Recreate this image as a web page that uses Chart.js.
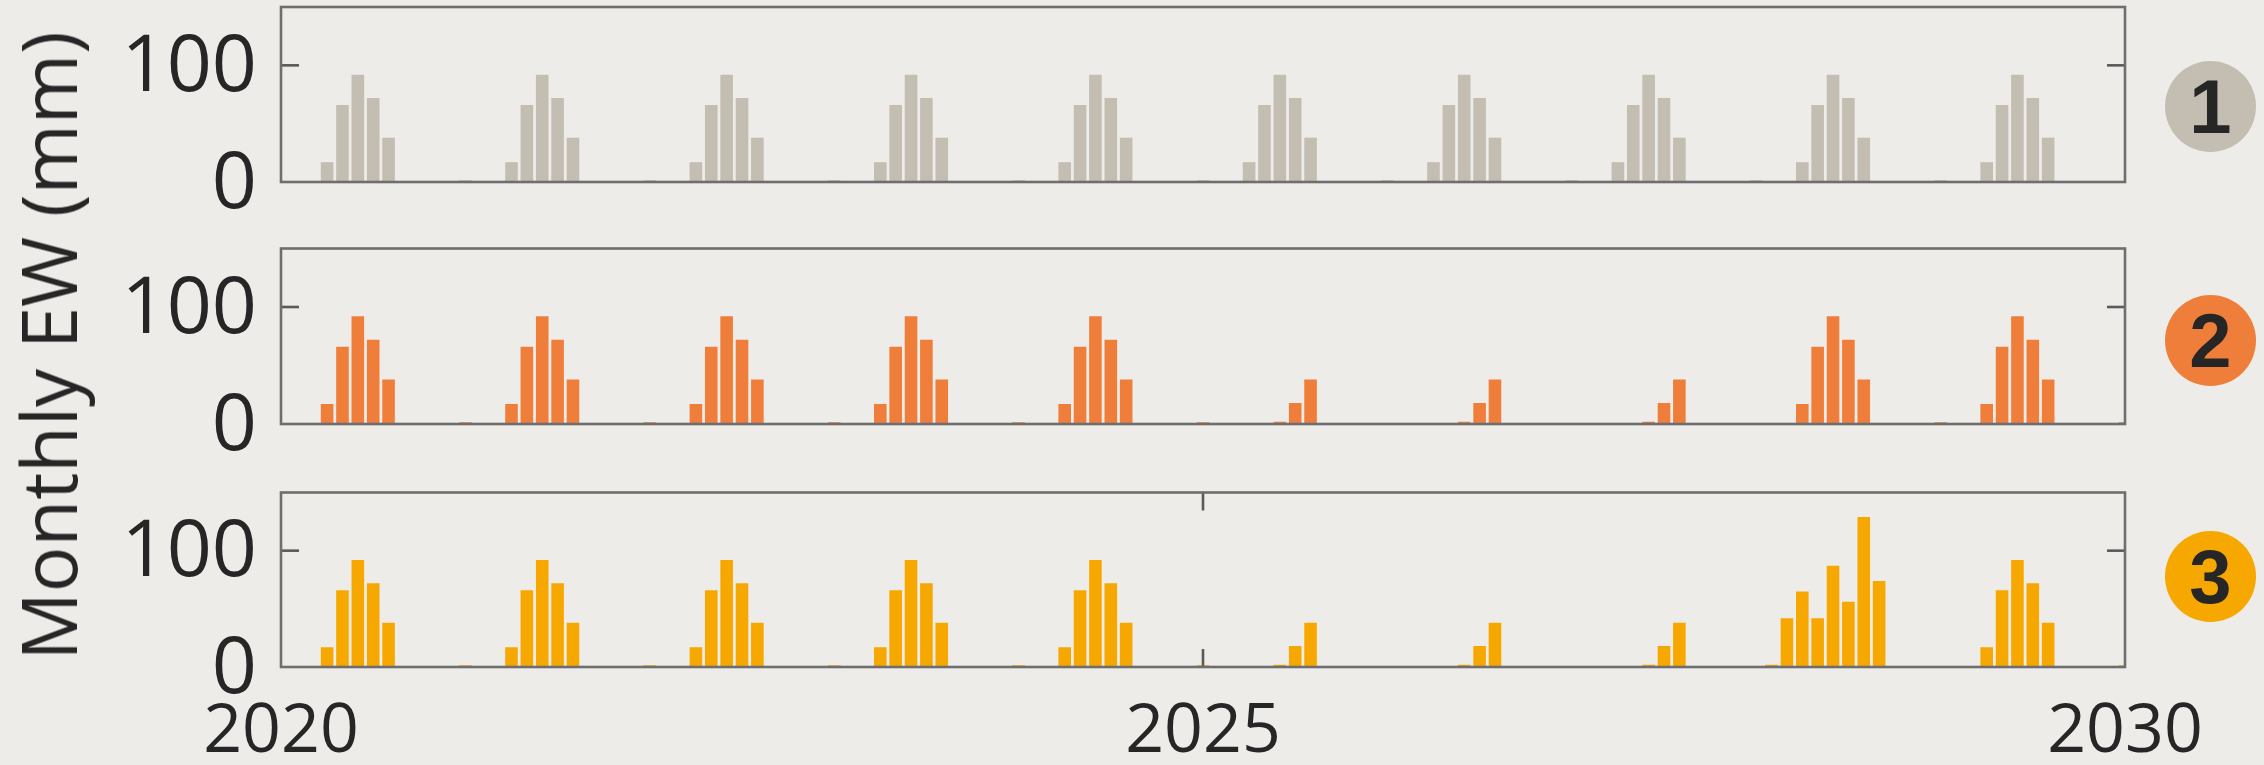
<!DOCTYPE html>
<html>
<head>
<meta charset="utf-8">
<title>Monthly EW</title>
<script src="https://cdn.jsdelivr.net/npm/chart.js@4.4.1/dist/chart.umd.min.js"></script>
<style>
  html, body { margin: 0; padding: 0; background: #eeece8; }
  body { width: 2264px; height: 765px; position: relative; overflow: hidden; font-family: "Open Sans", sans-serif; }
  canvas { position: absolute; left: 0; }
  #ytitle {
    position: absolute; left: 10px; top: 346px;
    font: 400 76px/76px "Open Sans", sans-serif; color: #262626; white-space: nowrap;
    transform-origin: 0 0; transform: rotate(-90deg) translateX(-50%);
  }
  .badge {
    position: absolute; left: 2165px; width: 91px; height: 91px; border-radius: 50%;
    display: flex; align-items: center; justify-content: center;
    font: 700 76px/76px "Liberation Sans", Arial, sans-serif; color: #262626;
  }
</style>
</head>
<body>
<canvas id="c1" width="2264" height="230" style="top:0px"></canvas>
<canvas id="c2" width="2264" height="240" style="top:230px"></canvas>
<canvas id="c3" width="2264" height="287" style="top:470px"></canvas>
<div id="ytitle">Monthly EW (mm)</div>
<div class="badge" style="top:61px;background:#c4beb2">1</div>
<div class="badge" style="top:295px;background:#ef7e3b">2</div>
<div class="badge" style="top:531px;background:#f6a800">3</div>
<script>
// Monthly EW (mm), one row per year (Jan..Dec), first row is 2020; last row holds Jan 2030.
const startYear = 2020;

const scenario1 = [
  [0,   0, 0, 17, 66, 92, 72, 38, 0, 0, 0, 0], // 2020
  [1.5, 0, 0, 17, 66, 92, 72, 38, 0, 0, 0, 0], // 2021
  [1.5, 0, 0, 17, 66, 92, 72, 38, 0, 0, 0, 0], // 2022
  [1.5, 0, 0, 17, 66, 92, 72, 38, 0, 0, 0, 0], // 2023
  [1.5, 0, 0, 17, 66, 92, 72, 38, 0, 0, 0, 0], // 2024
  [1.5, 0, 0, 17, 66, 92, 72, 38, 0, 0, 0, 0], // 2025
  [1.5, 0, 0, 17, 66, 92, 72, 38, 0, 0, 0, 0], // 2026
  [1.5, 0, 0, 17, 66, 92, 72, 38, 0, 0, 0, 0], // 2027
  [1.5, 0, 0, 17, 66, 92, 72, 38, 0, 0, 0, 0], // 2028
  [1.5, 0, 0, 17, 66, 92, 72, 38, 0, 0, 0, 0], // 2029
  [0]                                          // 2030
];

const scenario2 = [
  [0,   0, 0, 17, 66, 92, 72, 38, 0, 0, 0, 0], // 2020
  [1.5, 0, 0, 17, 66, 92, 72, 38, 0, 0, 0, 0], // 2021
  [1.5, 0, 0, 17, 66, 92, 72, 38, 0, 0, 0, 0], // 2022
  [1.5, 0, 0, 17, 66, 92, 72, 38, 0, 0, 0, 0], // 2023
  [1.5, 0, 0, 17, 66, 92, 72, 38, 0, 0, 0, 0], // 2024
  [1.5, 0, 0,  0,  0,  2, 18, 38, 0, 0, 0, 0], // 2025
  [0,   0, 0,  0,  0,  2, 18, 38, 0, 0, 0, 0], // 2026
  [0,   0, 0,  0,  0,  2, 18, 38, 0, 0, 0, 0], // 2027
  [0,   0, 0, 17, 66, 92, 72, 38, 0, 0, 0, 0], // 2028
  [1.5, 0, 0, 17, 66, 92, 72, 38, 0, 0, 0, 0], // 2029
  [1.5]                                        // 2030
];

const scenario3 = [
  [0,   0, 0, 17, 66, 92, 72, 38,  0, 0, 0, 0], // 2020
  [1.5, 0, 0, 17, 66, 92, 72, 38,  0, 0, 0, 0], // 2021
  [1.5, 0, 0, 17, 66, 92, 72, 38,  0, 0, 0, 0], // 2022
  [1.5, 0, 0, 17, 66, 92, 72, 38,  0, 0, 0, 0], // 2023
  [1.5, 0, 0, 17, 66, 92, 72, 38,  0, 0, 0, 0], // 2024
  [1.5, 0, 0,  0,  0,  2, 18, 38,  0, 0, 0, 0], // 2025
  [0,   0, 0,  0,  0,  2, 18, 38,  0, 0, 0, 0], // 2026
  [0,   0, 0,  0,  0,  2, 18, 38,  0, 0, 0, 0], // 2027
  [0,   2, 42, 65, 42, 87, 56, 129, 74, 0, 0, 0], // 2028
  [0,   0, 0, 17, 66, 92, 72, 38,  0, 0, 0, 0], // 2029
  [1.5]                                         // 2030
];

const xTickValues = [2020, 2025, 2030];
const yTickValues = [0, 100];

// Turn year rows into {x, y} points placed at the start of each month.
function toPoints(rows) {
  const pts = [];
  rows.forEach((row, r) => {
    row.forEach((v, m) => pts.push({ x: startYear + r + m / 12, y: v }));
  });
  return pts;
}

Chart.defaults.font.family = "'Open Sans', sans-serif";

// Boxed axes with inward tick marks, drawn on top of the bars.
const framePlugin = {
  id: 'frame',
  afterDatasetsDraw(chart, args, opts) {
    const { ctx, chartArea: a, scales } = chart;
    const L = 18;
    const line = (x1, y1, x2, y2) => { ctx.beginPath(); ctx.moveTo(x1, y1); ctx.lineTo(x2, y2); ctx.stroke(); };
    ctx.save();
    ctx.lineWidth = 2.6;
    ctx.strokeStyle = '#5a5a5a';
    yTickValues.forEach(v => {
      const py = scales.y.getPixelForValue(v);
      if (py > a.top + 1 && py < a.bottom - 1) {
        line(a.left, py, a.left + L, py);
        line(a.right - L, py, a.right, py);
      }
    });
    if (opts.xTicks) {
      xTickValues.forEach(v => {
        const px = scales.x.getPixelForValue(v);
        if (px > a.left + 1 && px < a.right - 1) {
          line(px, a.bottom, px, a.bottom - L);
          line(px, a.top, px, a.top + L);
        }
      });
    }
    ctx.strokeStyle = '#6e6e6e';
    ctx.strokeRect(a.left, a.top, a.right - a.left, a.bottom - a.top);
    ctx.restore();
  }
};

function makeChart(id, rows, color, isBottom, padTop, padBottom) {
  return new Chart(document.getElementById(id), {
    type: 'bar',
    data: {
      datasets: [{
        data: toPoints(rows),
        backgroundColor: color,
        borderWidth: 0,
        barPercentage: 0.82,
        categoryPercentage: 1,
        clip: 0
      }]
    },
    options: {
      responsive: false,
      animation: false,
      devicePixelRatio: 1,
      layout: { padding: { left: 0, right: 139, top: padTop, bottom: padBottom } },
      plugins: {
        legend: { display: false },
        tooltip: { enabled: false },
        frame: { xTicks: isBottom }
      },
      scales: {
        x: {
          type: 'linear',
          min: 2020,
          max: 2030,
          offset: false,
          display: isBottom,
          grid: { display: false, drawTicks: false },
          border: { display: false },
          afterBuildTicks: s => { s.ticks = xTickValues.map(v => ({ value: v })); },
          afterFit: s => {
            s.height = isBottom ? 90 : 0;
            s.paddingLeft = 0;
            s.paddingRight = 0;
          },
          ticks: {
            padding: 25,
            autoSkip: false,
            maxRotation: 0,
            color: '#262626',
            font: { size: 68 },
            callback: v => String(v)
          }
        },
        y: {
          min: 0,
          max: 150,
          grid: { display: false, drawTicks: false },
          border: { display: false },
          afterBuildTicks: s => { s.ticks = yTickValues.map(v => ({ value: v })); },
          afterFit: s => { s.width = 281; s.paddingTop = 0; s.paddingBottom = 0; },
          ticks: {
            padding: 24,
            labelOffset: 3,
            autoSkip: false,
            color: '#262626',
            font: { size: 79 },
            callback: v => String(v)
          }
        }
      }
    },
    plugins: [framePlugin]
  });
}

makeChart('c1', scenario1, '#c4beb2', false, 7, 48);
makeChart('c2', scenario2, '#ef7e3b', false, 18.5, 46);
makeChart('c3', scenario3, '#f6a800', true, 22.5, 0);
</script>
</body>
</html>
